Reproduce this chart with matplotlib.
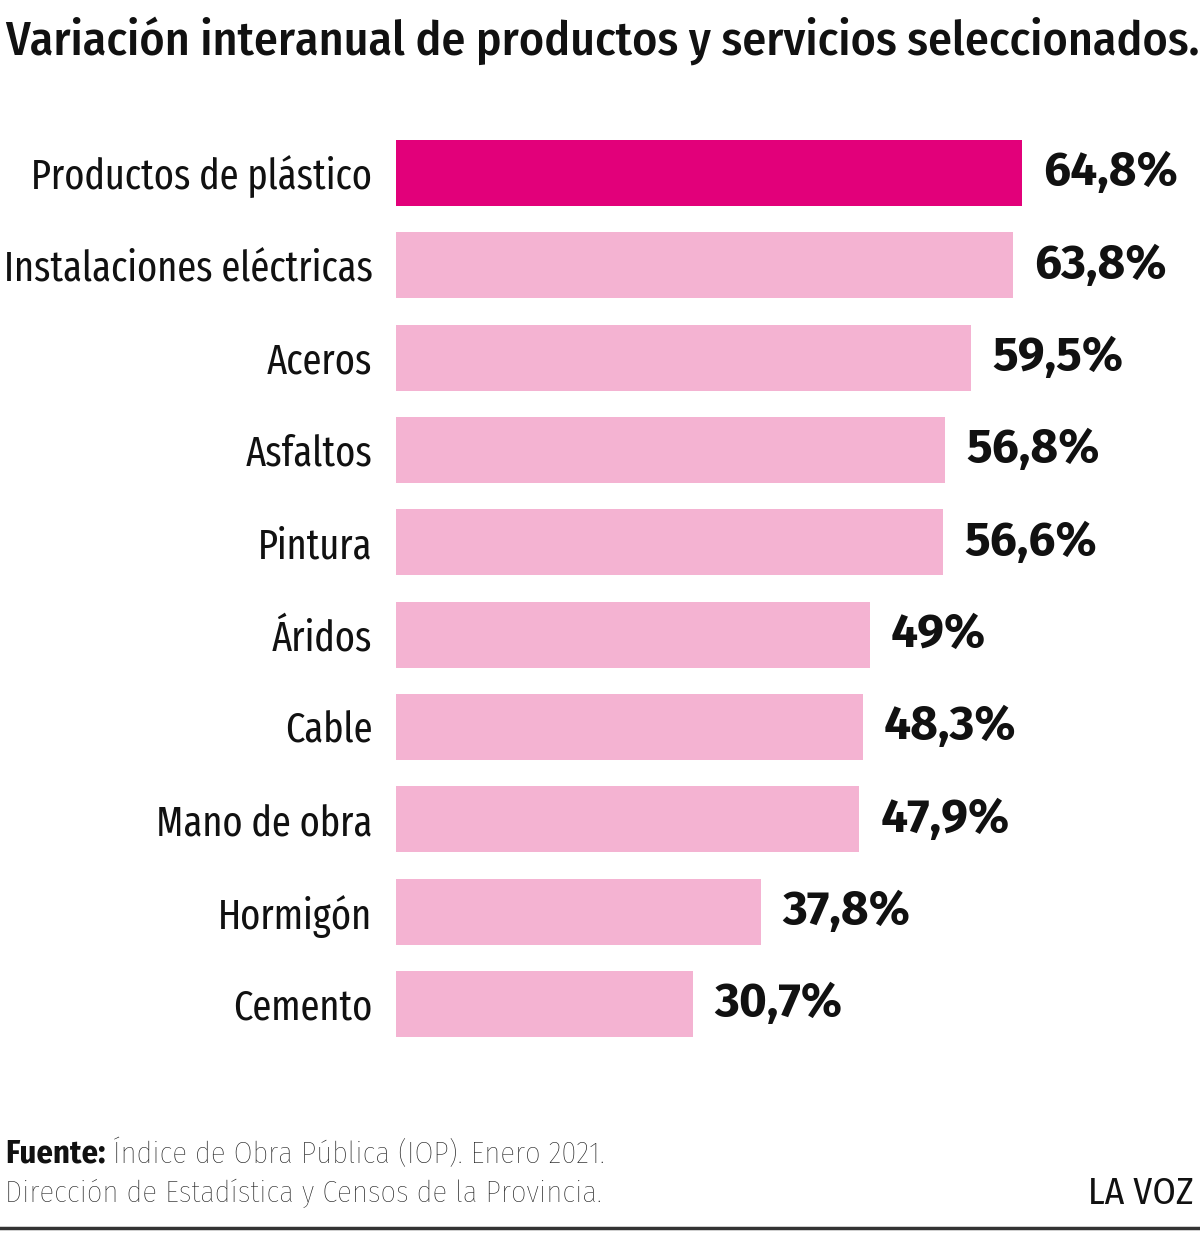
import matplotlib
matplotlib.use('Agg')
import matplotlib.pyplot as plt

# data
categories = ['Productos de plástico', 'Instalaciones eléctricas', 'Aceros', 'Asfaltos',
              'Pintura', 'Áridos', 'Cable', 'Mano de obra', 'Hormigón', 'Cemento']
values = [64.8, 63.8, 59.5, 56.8, 56.6, 49.0, 48.3, 47.9, 37.8, 30.7]
value_labels = ['64,8%', '63,8%', '59,5%', '56,8%', '56,6%', '49%', '48,3%', '47,9%', '37,8%', '30,7%']

highlight = '#e2007a'
base = '#f4b3d2'

wide = ['Fira Sans', 'DejaVu Sans']
cond = ['Fira Sans Condensed', 'DejaVu Sans']
xcond = ['Fira Sans Extra Condensed', 'DejaVu Sans']

fig = plt.figure(figsize=(12, 12.39), dpi=100)
ax = fig.add_axes([0.33, 0.1524, 0.67, 0.7452])

colors = [highlight] + [base] * (len(values) - 1)
ypos = list(range(len(values)))
ax.barh(ypos, values, height=0.715, color=colors)

for y, v, lab in zip(ypos, values, value_labels):
    ax.text(v + 2.2, y, lab, va='center', ha='left', fontsize=34.5, fontweight='bold',
            family=wide, color='#111111')

ax.set_yticks(ypos)
ax.set_yticklabels(categories, fontsize=30, color='#111111', family=xcond)
for t in ax.get_yticklabels():
    t.set_va('center_baseline')
ax.tick_params(axis='y', length=0, pad=17)
ax.set_xticks([])
ax.set_xlim(0, 83.2)
ax.set_ylim(9.5, -0.5)
for s in ax.spines.values():
    s.set_visible(False)

# title and footer
fig.text(0.004, 0.967, 'Variación interanual de productos y servicios seleccionados.',
         fontsize=34.4, fontweight='medium', family=cond, ha='left', va='center', color='#111111')
src = fig.text(0.004, 0.069, 'Fuente:', fontsize=23.5, fontweight='bold', family=cond,
               ha='left', va='center', color='#111111')
fig.canvas.draw()
bb = src.get_window_extent().transformed(fig.transFigure.inverted())
fig.text(bb.x1 + 0.006, 0.069, 'Índice de Obra Pública (IOP). Enero 2021.', fontsize=22, fontweight='light',
         family=cond, ha='left', va='center', color='#1e1e1e')
fig.text(0.004, 0.037, 'Dirección de Estadística y Censos de la Provincia.', fontsize=22,
         fontweight='light', family=cond, ha='left', va='center', color='#1e1e1e')
fig.text(0.995, 0.037, 'LA VOZ', fontsize=27, family=cond, ha='right', va='center', color='#111111')
fig.add_artist(plt.Line2D([0, 1], [0.009, 0.009], color='#333333', linewidth=2.5))

plt.savefig('out.png', dpi=100)
